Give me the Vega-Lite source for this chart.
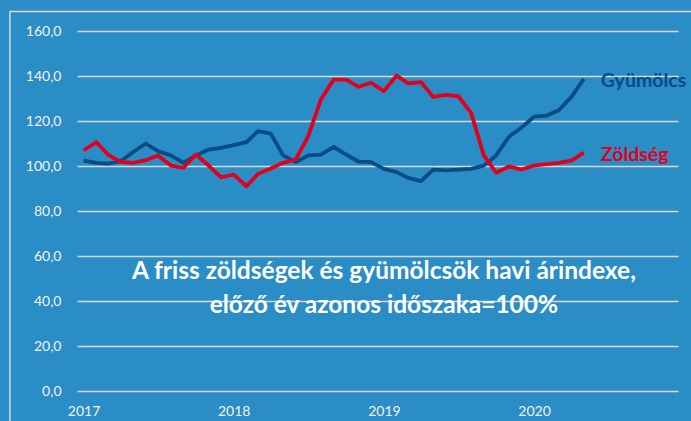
{
  "$schema": "https://vega.github.io/schema/vega-lite/v6.json",
  "width": 601,
  "height": 360,
  "autosize": "none",
  "padding": {"left": 77, "top": 31, "right": 13, "bottom": 30},
  "background": "#2A8DC5",
  "config": {
    "view": {"stroke": null},
    "font": "Lato",
    "axis": {"labelFont": "Lato", "labelColor": "#F2F2F2", "labelFontSize": 14}
  },
  "datasets": {
    "arindex": [
      {"honap": "2017-01-01", "sorozat": "Gyümölcs", "ertek": 102.4},
      {"honap": "2017-02-01", "sorozat": "Gyümölcs", "ertek": 101.4},
      {"honap": "2017-03-01", "sorozat": "Gyümölcs", "ertek": 101.1},
      {"honap": "2017-04-01", "sorozat": "Gyümölcs", "ertek": 102.1},
      {"honap": "2017-05-01", "sorozat": "Gyümölcs", "ertek": 106.1},
      {"honap": "2017-06-01", "sorozat": "Gyümölcs", "ertek": 110.0},
      {"honap": "2017-07-01", "sorozat": "Gyümölcs", "ertek": 106.6},
      {"honap": "2017-08-01", "sorozat": "Gyümölcs", "ertek": 104.7},
      {"honap": "2017-09-01", "sorozat": "Gyümölcs", "ertek": 101.4},
      {"honap": "2017-10-01", "sorozat": "Gyümölcs", "ertek": 104.7},
      {"honap": "2017-11-01", "sorozat": "Gyümölcs", "ertek": 107.3},
      {"honap": "2017-12-01", "sorozat": "Gyümölcs", "ertek": 108.1},
      {"honap": "2018-01-01", "sorozat": "Gyümölcs", "ertek": 109.3},
      {"honap": "2018-02-01", "sorozat": "Gyümölcs", "ertek": 110.6},
      {"honap": "2018-03-01", "sorozat": "Gyümölcs", "ertek": 115.5},
      {"honap": "2018-04-01", "sorozat": "Gyümölcs", "ertek": 114.4},
      {"honap": "2018-05-01", "sorozat": "Gyümölcs", "ertek": 104.7},
      {"honap": "2018-06-01", "sorozat": "Gyümölcs", "ertek": 101.7},
      {"honap": "2018-07-01", "sorozat": "Gyümölcs", "ertek": 104.7},
      {"honap": "2018-08-01", "sorozat": "Gyümölcs", "ertek": 105.1},
      {"honap": "2018-09-01", "sorozat": "Gyümölcs", "ertek": 108.5},
      {"honap": "2018-10-01", "sorozat": "Gyümölcs", "ertek": 105.1},
      {"honap": "2018-11-01", "sorozat": "Gyümölcs", "ertek": 101.9},
      {"honap": "2018-12-01", "sorozat": "Gyümölcs", "ertek": 101.7},
      {"honap": "2019-01-01", "sorozat": "Gyümölcs", "ertek": 98.7},
      {"honap": "2019-02-01", "sorozat": "Gyümölcs", "ertek": 97.3},
      {"honap": "2019-03-01", "sorozat": "Gyümölcs", "ertek": 94.7},
      {"honap": "2019-04-01", "sorozat": "Gyümölcs", "ertek": 93.3},
      {"honap": "2019-05-01", "sorozat": "Gyümölcs", "ertek": 98.4},
      {"honap": "2019-06-01", "sorozat": "Gyümölcs", "ertek": 98.1},
      {"honap": "2019-07-01", "sorozat": "Gyümölcs", "ertek": 98.4},
      {"honap": "2019-08-01", "sorozat": "Gyümölcs", "ertek": 98.7},
      {"honap": "2019-09-01", "sorozat": "Gyümölcs", "ertek": 100.2},
      {"honap": "2019-10-01", "sorozat": "Gyümölcs", "ertek": 104.7},
      {"honap": "2019-11-01", "sorozat": "Gyümölcs", "ertek": 113.0},
      {"honap": "2019-12-01", "sorozat": "Gyümölcs", "ertek": 117.0},
      {"honap": "2020-01-01", "sorozat": "Gyümölcs", "ertek": 121.9},
      {"honap": "2020-02-01", "sorozat": "Gyümölcs", "ertek": 122.4},
      {"honap": "2020-03-01", "sorozat": "Gyümölcs", "ertek": 124.8},
      {"honap": "2020-04-01", "sorozat": "Gyümölcs", "ertek": 130.7},
      {"honap": "2020-05-01", "sorozat": "Gyümölcs", "ertek": 138.7},
      {"honap": "2017-01-01", "sorozat": "Zöldség", "ertek": 106.9},
      {"honap": "2017-02-01", "sorozat": "Zöldség", "ertek": 110.6},
      {"honap": "2017-03-01", "sorozat": "Zöldség", "ertek": 105.1},
      {"honap": "2017-04-01", "sorozat": "Zöldség", "ertek": 101.8},
      {"honap": "2017-05-01", "sorozat": "Zöldség", "ertek": 101.4},
      {"honap": "2017-06-01", "sorozat": "Zöldség", "ertek": 102.6},
      {"honap": "2017-07-01", "sorozat": "Zöldség", "ertek": 104.7},
      {"honap": "2017-08-01", "sorozat": "Zöldség", "ertek": 100.2},
      {"honap": "2017-09-01", "sorozat": "Zöldség", "ertek": 99.2},
      {"honap": "2017-10-01", "sorozat": "Zöldség", "ertek": 105.1},
      {"honap": "2017-11-01", "sorozat": "Zöldség", "ertek": 100.2},
      {"honap": "2017-12-01", "sorozat": "Zöldség", "ertek": 95.0},
      {"honap": "2018-01-01", "sorozat": "Zöldség", "ertek": 96.2},
      {"honap": "2018-02-01", "sorozat": "Zöldség", "ertek": 91.0},
      {"honap": "2018-03-01", "sorozat": "Zöldség", "ertek": 96.5},
      {"honap": "2018-04-01", "sorozat": "Zöldség", "ertek": 98.9},
      {"honap": "2018-05-01", "sorozat": "Zöldség", "ertek": 101.4},
      {"honap": "2018-06-01", "sorozat": "Zöldség", "ertek": 102.9},
      {"honap": "2018-07-01", "sorozat": "Zöldség", "ertek": 113.2},
      {"honap": "2018-08-01", "sorozat": "Zöldség", "ertek": 129.6},
      {"honap": "2018-09-01", "sorozat": "Zöldség", "ertek": 138.4},
      {"honap": "2018-10-01", "sorozat": "Zöldség", "ertek": 138.4},
      {"honap": "2018-11-01", "sorozat": "Zöldség", "ertek": 135.2},
      {"honap": "2018-12-01", "sorozat": "Zöldség", "ertek": 137.0},
      {"honap": "2019-01-01", "sorozat": "Zöldség", "ertek": 133.3},
      {"honap": "2019-02-01", "sorozat": "Zöldség", "ertek": 140.2},
      {"honap": "2019-03-01", "sorozat": "Zöldség", "ertek": 136.7},
      {"honap": "2019-04-01", "sorozat": "Zöldség", "ertek": 137.3},
      {"honap": "2019-05-01", "sorozat": "Zöldség", "ertek": 130.7},
      {"honap": "2019-06-01", "sorozat": "Zöldség", "ertek": 131.6},
      {"honap": "2019-07-01", "sorozat": "Zöldség", "ertek": 131.0},
      {"honap": "2019-08-01", "sorozat": "Zöldség", "ertek": 123.6},
      {"honap": "2019-09-01", "sorozat": "Zöldség", "ertek": 104.7},
      {"honap": "2019-10-01", "sorozat": "Zöldség", "ertek": 97.0},
      {"honap": "2019-11-01", "sorozat": "Zöldség", "ertek": 99.8},
      {"honap": "2019-12-01", "sorozat": "Zöldség", "ertek": 98.4},
      {"honap": "2020-01-01", "sorozat": "Zöldség", "ertek": 100.2},
      {"honap": "2020-02-01", "sorozat": "Zöldség", "ertek": 100.8},
      {"honap": "2020-03-01", "sorozat": "Zöldség", "ertek": 101.4},
      {"honap": "2020-04-01", "sorozat": "Zöldség", "ertek": 102.4},
      {"honap": "2020-05-01", "sorozat": "Zöldség", "ertek": 105.9}
    ]
  },
  "layer": [
    {
      "data": {"name": "arindex"},
      "mark": {"type": "line", "strokeWidth": 3.8, "strokeJoin": "round"},
      "encoding": {
        "x": {
          "field": "honap",
          "type": "temporal",
          "scale": {"domain": [{"year": 2016, "month": 12, "date": 16}, {"year": 2020, "month": 12, "date": 16}]},
          "axis": {
            "title": null,
            "values": [{"year": 2017, "month": 1, "date": 1}, {"year": 2018, "month": 1, "date": 1}, {"year": 2019, "month": 1, "date": 1}, {"year": 2020, "month": 1, "date": 1}],
            "format": "%Y",
            "grid": false,
            "ticks": false,
            "domain": false,
            "labelPadding": 13,
            "labelFontSize": 14
          }
        },
        "y": {
          "field": "ertek",
          "type": "quantitative",
          "scale": {"domain": [0, 160], "nice": false},
          "axis": {
            "title": null,
            "values": [0, 20, 40, 60, 80, 100, 120, 140, 160],
            "labelExpr": "replace(format(datum.value, '.1f'), '.', ',')",
            "grid": true,
            "gridColor": "#D9D9D9",
            "gridWidth": 1.5,
            "ticks": false,
            "domain": false,
            "labelPadding": 16
          }
        },
        "color": {
          "field": "sorozat",
          "type": "nominal",
          "scale": {"domain": ["Gyümölcs", "Zöldség"], "range": ["#074C85", "#E3001B"]},
          "legend": null
        }
      }
    },
    {
      "data": {"name": "arindex"},
      "transform": [{"filter": "year(datum.honap) == 2020 && month(datum.honap) == 4"}],
      "mark": {"type": "text", "align": "left", "baseline": "middle", "dx": 17, "dy": 2, "fontSize": 19.5, "fontWeight": "bold", "font": "Lato"},
      "encoding": {
        "x": {"field": "honap", "type": "temporal"},
        "y": {"field": "ertek", "type": "quantitative"},
        "color": {"field": "sorozat", "type": "nominal"},
        "text": {"field": "sorozat"}
      }
    },
    {
      "data": {"values": [{"felirat": "cim"}]},
      "mark": {"type": "text", "align": "center", "baseline": "middle", "fontSize": 24.5, "fontWeight": "bold", "font": "Lato", "fill": "white", "lineHeight": 34,
        "text": ["A friss zöldségek és gyümölcsök havi árindexe,", "előző év azonos időszaka=100%"]},
      "encoding": {
        "x": {"datum": {"year": 2019, "month": 1, "date": 1}, "type": "temporal"},
        "y": {"datum": 52.8, "type": "quantitative"}
      }
    },
    {
      "data": {"values": [{"felirat": "keret"}]},
      "mark": {"type": "rect", "fill": null, "stroke": "#D9D9D9", "strokeWidth": 1.5, "clip": false},
      "encoding": {
        "x": {"datum": {"year": 2016, "month": 7, "date": 6}, "type": "temporal"},
        "x2": {"datum": {"year": 2021, "month": 6, "date": 1}},
        "y": {"datum": 168.7, "type": "quantitative"},
        "y2": {"datum": -20}
      }
    }
  ]
}
